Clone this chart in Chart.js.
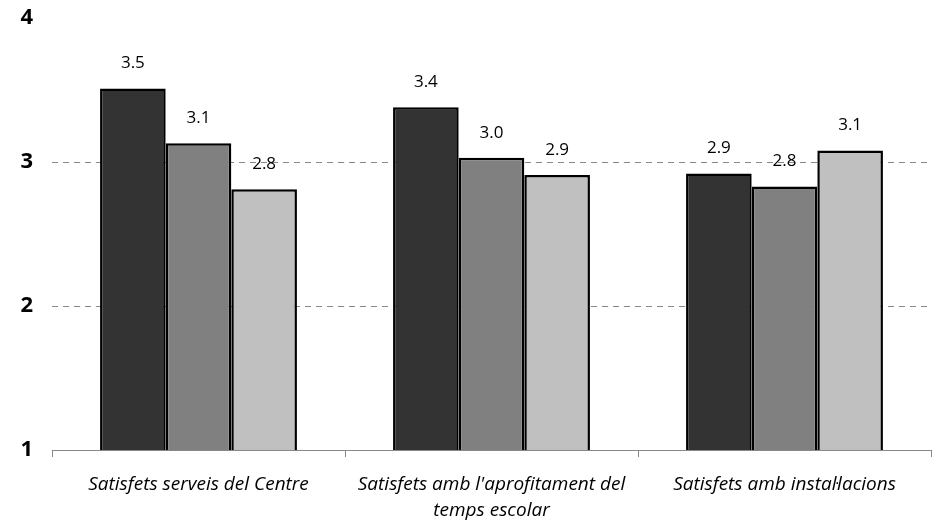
<!DOCTYPE html>
<html lang="ca">
<head>
  <meta charset="UTF-8" />
  <title>Satisfacció</title>
  <script src="https://cdn.jsdelivr.net/npm/chart.js"></script>
  <style>
    html, body { margin: 0; padding: 0; background: #fff; }
    .wrap { width: 948px; height: 526px; }
  </style>
</head>
<body>
  <div class="wrap"><canvas id="chart"></canvas></div>
  <script>
    const categories = [
      "Satisfets serveis del Centre",
      ["Satisfets amb l'aprofitament del", "temps escolar"],
      "Satisfets amb instal·lacions"
    ];
    const serieA = [3.51, 3.38, 2.92];
    const serieB = [3.13, 3.03, 2.83];
    const serieC = [2.81, 2.91, 3.08];
    const yTicks = [1, 2, 3, 4];

    const FONT = "'Open Sans', 'Noto Sans', sans-serif";

    // valors a sobre de cada barra
    const valueLabels = {
      id: "valueLabels",
      afterDatasetsDraw(chart) {
        const ctx = chart.ctx;
        ctx.save();
        ctx.font = "17px " + FONT;
        ctx.fillStyle = "#000";
        ctx.textAlign = "center";
        ctx.textBaseline = "middle";
        chart.data.datasets.forEach((ds, i) => {
          chart.getDatasetMeta(i).data.forEach((bar, j) => {
            ctx.fillText(ds.data[j].toFixed(1), bar.x, bar.y - 25);
          });
        });
        ctx.restore();
      }
    };

    new Chart(document.getElementById("chart"), {
      type: "bar",
      data: {
        labels: categories,
        datasets: [
          { data: serieA, backgroundColor: "#333333" },
          { data: serieB, backgroundColor: "#808080" },
          { data: serieC, backgroundColor: "#c0c0c0" }
        ].map(d => Object.assign(d, {
          borderColor: "#000",
          borderWidth: 2.5,
          borderSkipped: false,
          barPercentage: 1,
          categoryPercentage: 0.672
        }))
      },
      options: {
        responsive: true,
        maintainAspectRatio: false,
        animation: false,
        layout: { padding: { top: 18, right: 17, left: 0, bottom: 0 } },
        plugins: {
          legend: { display: false },
          tooltip: { enabled: false }
        },
        scales: {
          x: {
            grid: {
              offset: true,
              drawOnChartArea: false,
              drawTicks: true,
              tickLength: 7,
              color: "#888"
            },
            border: { display: true, color: "#888", width: 1 },
            ticks: {
              color: "#000",
              padding: 15,
              maxRotation: 0,
              font: { family: FONT, size: 19, style: "italic", lineHeight: 1.35 }
            },
            afterFit: s => { s.height = 76; s.paddingLeft = 0; s.paddingRight = 0; }
          },
          y: {
            min: 1,
            max: 4,
            afterBuildTicks: s => { s.ticks = yTicks.map(v => ({ value: v })); },
            grid: {
              drawTicks: false,
              color: c => (c.tick.value === 2 || c.tick.value === 3) ? "#888" : "rgba(0,0,0,0)"
            },
            border: { display: false, dash: [6, 5] },
            ticks: {
              color: "#000",
              padding: 19,
              font: { family: FONT, size: 22, weight: "bold" }
            },
            afterFit: s => { s.width = 52; s.paddingTop = 0; s.paddingBottom = 0; }
          }
        }
      },
      plugins: [valueLabels]
    });
  </script>
</body>
</html>
